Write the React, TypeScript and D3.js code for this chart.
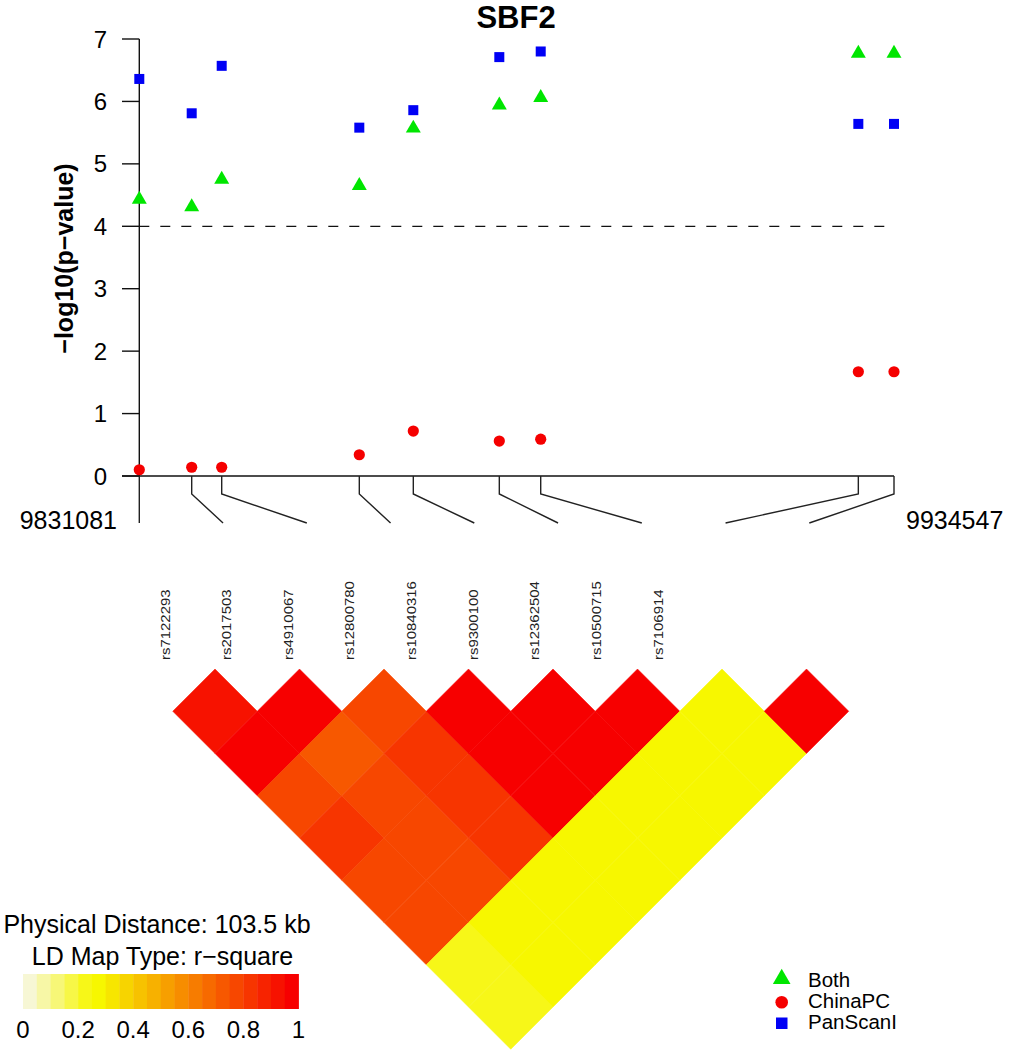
import React from "react";
import * as d3 from "d3";

// ---------- data ----------
const title = "SBF2";
const snpNames = ["rs7122293", "rs2017503", "rs4910067", "rs12800780", "rs10840316", "rs9300100", "rs12362504", "rs10500715", "rs7106914"];
const snpPositions = [9831081, 9838265, 9842378, 9861243, 9868646, 9880437, 9886113, 9929657, 9934547];
const bothValues = [4.43, 4.31, 4.75, 4.65, 5.57, 5.94, 6.06, 6.77, 6.77];
const chinaValues = [0.1, 0.14, 0.14, 0.34, 0.72, 0.56, 0.59, 1.67, 1.67];
const panscanValues = [6.36, 5.81, 6.57, 5.58, 5.86, 6.71, 6.8, 5.64, 5.64];
const yTicks = [0, 1, 2, 3, 4, 5, 6, 7];
const threshold = 4;
// LD r-square, upper triangle: row i holds pairs (i, i+1..8)
const ldRow0 = [0.92, 0.97, 0.77, 0.82, 0.77, 0.77, 0.22, 0.22];
const ldRow1 = [0.97, 0.72, 0.77, 0.77, 0.77, 0.27, 0.27];
const ldRow2 = [0.77, 0.82, 0.82, 0.82, 0.27, 0.27];
const ldRow3 = [0.97, 0.97, 0.97, 0.27, 0.27];
const ldRow4 = [0.97, 0.97, 0.27, 0.27];
const ldRow5 = [0.97, 0.27, 0.27];
const ldRow6 = [0.27, 0.27];
const ldRow7 = [0.97];
const ldRows = [ldRow0, ldRow1, ldRow2, ldRow3, ldRow4, ldRow5, ldRow6, ldRow7];
const legendTicks = [0, 0.2, 0.4, 0.6, 0.8, 1];
const legendSeries = ["Both", "ChinaPC", "PanScanI"];
const distanceText = "Physical Distance: 103.5 kb";
const mapTypeText = "LD Map Type: r\u2212square";

// ---------- palette: rev(heat.colors(20)) ----------
function heatColors(n: number): string[] {
  const j = Math.floor(n / 4);
  const i = n - j;
  const out: string[] = [];
  for (let k = 0; k < i; k++) {
    const h = (k / (i - 1)) * (1 / 6);
    const g = h * 6;
    out.push(d3.rgb(255 * 0.97, 255 * g * 0.97, 0).formatHex());
  }
  for (let k = 0; k < j; k++) {
    const s = 1 - 1 / (2 * j) - k * ((1 - 1 / j) / (j - 1));
    const b = 255 * (1 - s);
    out.push(d3.rgb(255 * 0.97, 255 * 0.97, b * 0.93).formatHex());
  }
  return out;
}
const palette = heatColors(20).reverse();
const colorOf = (v: number) => palette[Math.min(19, Math.floor(v * 20))];

const FONT = "'Liberation Sans', Arial, Helvetica, sans-serif";

export default function App() {
  const W = 1009, H = 1050;
  const y = d3.scaleLinear().domain([0, 7]).range([476, 39]);
  const x = d3.scaleLinear().domain([snpPositions[0], snpPositions[snpPositions.length - 1]]).range([139.3, 894]);
  const n = snpNames.length;
  const segX = d3.scaleLinear().domain([0, n - 1]).range([139.3, 809.3]);
  const labX = d3.scaleLinear().domain([0, n - 1]).range([165, 658]);
  const hx = d3.scaleLinear().domain([0, n - 1]).range([172.75, 848.75]);
  const hy = d3.scaleLinear().domain([0, n - 1]).range([669, 1007]);
  const half = (hx(1) - hx(0)) / 2;
  const lx = d3.scaleLinear().domain([0, 1]).range([23, 298.5]);

  const tri = d3.symbol().type(d3.symbolTriangle).size(97)();
  const triL = d3.symbol().type(d3.symbolTriangle).size(135)();

  const cells: { i: number; j: number; v: number }[] = [];
  ldRows.forEach((row, i) => row.forEach((v, k) => cells.push({ i, j: i + 1 + k, v })));

  const bands = d3.range(20);
  const bw = (lx(1) - lx(0)) / 20;

  return (
    <svg width={W} height={H} style={{ display: "block", position: "absolute", left: 0, top: 0 }} fontFamily={FONT}>
      <rect width={W} height={H} fill="#fff" />
      <text x={516} y={28} textAnchor="middle" fontWeight="bold" fontSize={31}>{title}</text>

      {/* y axis */}
      <line x1={139.3} x2={139.3} y1={y(7)} y2={y(0)} stroke="#111" strokeWidth={1.4} />
      {yTicks.map((t) => (
        <g key={t}>
          <line x1={122} x2={139.3} y1={y(t)} y2={y(t)} stroke="#111" strokeWidth={1.4} />
          <text x={107} y={y(t)} dy="0.36em" textAnchor="end" fontSize={24}>{t}</text>
        </g>
      ))}
      <text transform={`translate(72.5,258.5) rotate(-90)`} textAnchor="middle" fontWeight="bold" fontSize={25}>
        {"\u2212log10(p\u2212value)"}
      </text>

      {/* threshold */}
      <line x1={139.3} x2={894} y1={y(threshold)} y2={y(threshold)} stroke="#111" strokeWidth={1.3} strokeDasharray="10,11" />

      {/* baseline / gene map */}
      <line x1={122} x2={894} y1={y(0)} y2={y(0)} stroke="#111" strokeWidth={1.4} />
      {snpPositions.map((p, i) => (
        <polyline key={i} points={`${x(p)},${y(0)} ${x(p)},494 ${segX(i)},523`} fill="none" stroke="#222" strokeWidth={1.4} />
      ))}
      <text x={117} y={529} textAnchor="end" fontSize={25}>{snpPositions[0]}</text>
      <text x={906} y={529} textAnchor="start" fontSize={25}>{snpPositions[n - 1]}</text>

      {/* points */}
      {panscanValues.map((v, i) => (
        <rect key={"p" + i} x={x(snpPositions[i]) - 5} y={y(v) - 5} width={10} height={10} fill="#0000f5" />
      ))}
      {bothValues.map((v, i) => (
        <path key={"b" + i} d={tri} transform={`translate(${x(snpPositions[i])},${y(v)})`} fill="#00e600" />
      ))}
      {chinaValues.map((v, i) => (
        <circle key={"c" + i} cx={x(snpPositions[i])} cy={y(v)} r={5.6} fill="#f50000" />
      ))}

      {/* SNP labels */}
      {snpNames.map((s, i) => (
        <text key={s} transform={`translate(${labX(i)},660) rotate(-90) scale(1.15,1)`} dy="0.35em" fontSize={13} fill="#222">{s}</text>
      ))}

      {/* LD heatmap */}
      {cells.map((c) => {
        const cx = hx((c.i + c.j) / 2);
        const cy = hy(c.j - c.i);
        return (
          <polygon key={c.i + "-" + c.j}
            points={`${cx},${cy - half} ${cx + half},${cy} ${cx},${cy + half} ${cx - half},${cy}`}
            fill={colorOf(c.v)} stroke={colorOf(c.v)} strokeWidth={0.5} />
        );
      })}

      {/* LD legend */}
      <text x={157} y={933} textAnchor="middle" fontSize={25}>{distanceText}</text>
      <text x={162.5} y={965} textAnchor="middle" fontSize={25}>{mapTypeText}</text>
      {bands.map((b) => (
        <rect key={b} x={lx(0) + b * bw} y={974} width={bw + 0.4} height={35} fill={palette[b]} />
      ))}
      {legendTicks.map((t) => (
        <text key={t} x={lx(t)} y={1038} textAnchor="middle" fontSize={24}>{t}</text>
      ))}

      {/* series legend */}
      <path d={triL} transform="translate(781.7,979)" fill="#00e600" />
      <circle cx={781.7} cy={1002.3} r={6.3} fill="#f50000" />
      <rect x={776} y={1017.5} width={11.5} height={11.5} fill="#0000f5" />
      {legendSeries.map((s, i) => (
        <text key={s} x={808} y={987 + i * 21} fontSize={20.5}>{s}</text>
      ))}
    </svg>
  );
}
